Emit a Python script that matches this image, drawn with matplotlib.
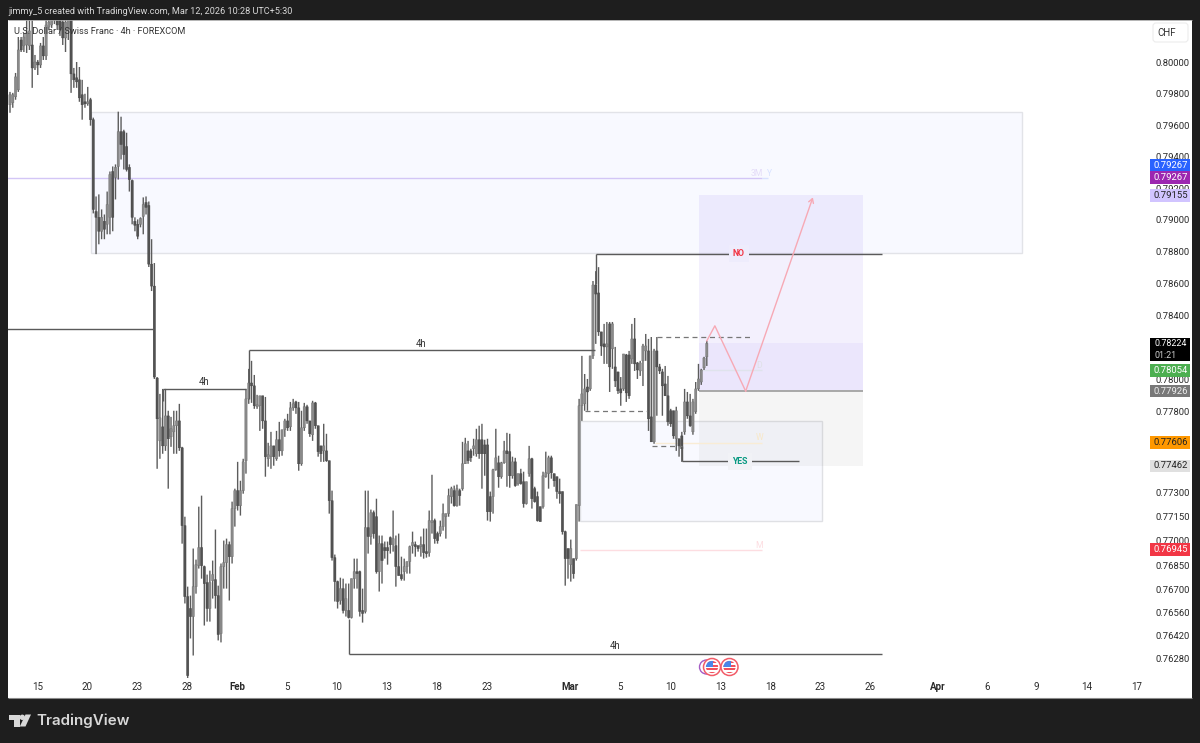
import matplotlib
matplotlib.use("Agg")
import matplotlib.pyplot as plt
import numpy as np
from matplotlib.patches import Rectangle, Circle, FancyBboxPatch, Polygon
from matplotlib.ticker import NullLocator

plt.rcParams['font.family'] = ['Roboto', 'DejaVu Sans']

# USDCHF 4h candles, prices in 1e-5
highs = [79812, 79806, 79933, 80163, 80163, 80189, 80272, 80285, 80336, 80048,
         80016, 80125, 80163, 80272, 80349, 80368, 80368, 80368, 80336, 80323,
         80336, 80368, 80368, 79965, 80003, 79971, 79889, 79800, 79844, 79774,
         79648, 79148, 79161, 79066, 79034, 79179, 79306, 79338, 79351, 79686,
         79654, 79571, 79552, 79351, 79255, 79016, 79003, 79016, 79142, 79148,
         79116, 78878, 78728, 78014, 77909, 77940, 77940, 77804, 77766, 77804,
         77804, 77847, 77580, 77148, 76718, 76663, 76952, 76884, 77210, 77278,
         76847, 76792, 76816, 76878, 77069, 76724, 76860, 77001, 77013, 76995,
         77241, 77321, 77487, 77370, 77506,
         77940, 78065, 78115, 78027, 77903, 77897, 77897, 77890, 77605, 77673,
         77586, 77679, 77735, 77686, 77754, 77785, 77859, 77878, 77866, 77859,
         77804, 77853, 77841, 77741, 77866, 77859, 77711, 77586, 77723, 77661,
         77494, 77309, 76915, 76755, 76773, 76767, 76737, 76737, 76767, 76890,
         76890, 76816, 76706, 77309, 77309, 77192, 77186, 77259, 77032, 77032,
         76995, 76995, 77026, 77186, 77032, 77044, 76902, 76890, 76872, 76970,
         77056, 76995, 76970, 77026, 77075, 77075, 77186, 77407, 77136, 77056,
         77124, 77229, 77167, 77321, 77333, 77340, 77346, 77321, 77611, 77636,
         77617, 77568, 77630, 77692, 77711, 77723, 77624, 77630, 77303, 77444,
         77692, 77525, 77487, 77617, 77667, 77661, 77519, 77512, 77414, 77444,
         77426, 77364, 77586, 77512, 77333, 77303, 77210, 77426, 77550, 77525,
         77525, 77414, 77395, 77383, 77303, 77062, 76952, 77007, 76890, 77223,
         77878, 78146, 78033, 78002, 78146, 78615, 78677, 78702, 78296, 78346,
         78358, 78358, 78358, 78202, 78046, 78014, 78158, 78158, 78177, 78346,
         78383, 78108, 78115, 78221, 78283, 78252, 78264, 78190, 78264, 78096,
         78065, 78083, 78021, 77816, 77804, 77829, 77630, 77673, 77940, 77921,
         77909, 77878, 77983, 78096, 78065, 78140, 78240]

lows = [79679, 79711, 79762, 79812, 80067, 80067, 80061, 80080, 79838, 79952,
        79920, 79965, 80016, 80016, 80208, 80221, 80246, 80208, 80170, 80112,
        80067, 80144, 79806, 79838, 79838, 79749, 79635, 79711, 79724, 79597,
        79041, 78784, 78846, 78878, 78878, 78909, 78909, 78928, 79129, 79255,
        79382, 79319, 79306, 79179, 78972, 78928, 78878, 78953, 78909, 79034,
        78703, 78552, 78002, 77444, 77506, 77537, 77555, 77321, 77580, 77537,
        77537, 77555, 76982, 76615, 76036, 76401, 76297, 76675, 76829, 76767,
        76480, 76504, 76504, 76645, 76584, 76389, 76377, 76706, 76706, 76633,
        76860, 77087, 77186, 77155, 77290,
        77414, 77847, 77853, 77816, 77816, 77679, 77692, 77395, 77457, 77444,
        77463, 77494, 77519, 77525, 77642, 77679, 77679, 77804, 77785, 77432,
        77463, 77679, 77723, 77642, 77617, 77692, 77519, 77487, 77487, 77487,
        77167, 76878, 76627, 76584, 76608, 76554, 76535, 76523, 76523, 76706,
        76706, 76535, 76498, 76554, 76921, 76976, 77013, 76798, 76688, 76737,
        76890, 76853, 76921, 76933, 76718, 76786, 76755, 76755, 76798, 76798,
        76921, 76902, 76933, 76902, 76890, 76896, 76902, 77044, 76982, 76982,
        77026, 77062, 77013, 77148, 77229, 77210, 77210, 77216, 77309, 77475,
        77475, 77487, 77525, 77519, 77506, 77321, 77401, 77124, 77118, 77167,
        77432, 77327, 77383, 77475, 77333, 77327, 77383, 77333, 77340, 77346,
        77204, 77223, 77395, 77198, 77235, 77118, 77118, 77198, 77389, 77321,
        77383, 77333, 77259, 77229, 77038, 76724, 76767, 76749, 76767, 76878,
        77118, 77741, 77804, 77804, 77928, 78127, 78221, 78271, 78146, 78096,
        78096, 77921, 78065, 77952, 77909, 77835, 77928, 77859, 77878, 78096,
        78052, 78002, 78021, 77958, 78115, 77679, 77611, 77599, 77773, 78033,
        77773, 77897, 77711, 77704, 77630, 77555, 77519, 77487, 77655, 77754,
        77704, 77655, 77785, 77928, 77965, 78058, 78083]

opens = [79730, 79743, 79781, 79825, 80144, 80106, 80112, 80106, 80112, 79965,
         80003, 79984, 80106, 80042, 80227, 80240, 80336, 80323, 80272, 80259,
         80157, 80208, 80272, 79927, 79902, 79889, 79794, 79749, 79736, 79762,
         79635, 79053, 79016, 78928, 78991, 78972, 79016, 79306, 79268, 79338,
         79559, 79559, 79464, 79332, 79249, 78991, 78972, 78972, 79022, 79110,
         79091, 78721, 78583, 78008, 77617, 77704, 77586, 77772, 77642, 77673,
         77711, 77741, 77574, 77093, 76657, 76584, 76535, 76718, 76847, 76958,
         76841, 76743, 76584, 76755, 76761, 76663, 76431, 76841, 76866, 76976,
         76902, 77198, 77309, 77216, 77309,
         77494, 77878, 77977, 77959, 77829, 77835, 77897, 77741, 77506, 77519,
         77586, 77506, 77624, 77555, 77686, 77741, 77704, 77822, 77859, 77822,
         77475, 77698, 77829, 77741, 77655, 77853, 77711, 77586, 77555, 77555,
         77494, 77247, 76896, 76749, 76633, 76706, 76572, 76572, 76529, 76767,
         76810, 76810, 76572, 76566, 77081, 77026, 77173, 77148, 76810, 76982,
         76958, 76958, 77019, 76976, 76970, 76841, 76792, 76810, 76841, 76872,
         76970, 76976, 76970, 76964, 76976, 76933, 76927, 77112, 77124, 77044,
         77044, 77087, 77148, 77167, 77272, 77309, 77216, 77309, 77321, 77475,
         77555, 77555, 77568, 77537, 77624, 77624, 77592, 77592, 77272, 77272,
         77438, 77481, 77395, 77481, 77555, 77550, 77401, 77487, 77352, 77414,
         77364, 77229, 77414, 77506, 77321, 77272, 77210, 77210, 77395, 77414,
         77512, 77414, 77395, 77303, 77303, 77056, 76952, 76853, 76890, 76890,
         77216, 77835, 77847, 77952, 77940, 78146, 78590, 78540, 78296, 78221,
         78202, 78346, 78190, 78077, 78046, 77940, 77940, 78152, 78152, 78127,
         78252, 78102, 78052, 78115, 78177, 78177, 77766, 77611, 78177, 78077,
         78046, 77971, 77897, 77804, 77804, 77630, 77630, 77648, 77673, 77859,
         77772, 77673, 77798, 77940, 77983, 78071, 78140]

closes = [79794, 79794, 79908, 80080, 80080, 80163, 80189, 80202, 79965, 80003,
          79984, 80106, 80042, 80240, 80259, 80304, 80272, 80240, 80208, 80157,
          80259, 80304, 79927, 79889, 79876, 79774, 79730, 79736, 79749, 79635,
          79066, 79016, 78928, 79016, 78941, 79097, 79287, 79016, 79332, 79559,
          79477, 79413, 79319, 79255, 79016, 78966, 78897, 79009, 79097, 79079,
          78721, 78583, 78014, 77754, 77760, 77586, 77772, 77630, 77692, 77711,
          77741, 77574, 77093, 76657, 76175, 76535, 76718, 76853, 76958, 76847,
          76737, 76584, 76743, 76792, 76663, 76425, 76841, 76866, 76976, 76902,
          77198, 77309, 77216, 77309, 77487,
          77878, 77977, 77959, 77835, 77841, 77897, 77741, 77519, 77531, 77586,
          77519, 77624, 77555, 77686, 77741, 77698, 77822, 77847, 77822, 77475,
          77698, 77829, 77741, 77661, 77853, 77711, 77550, 77537, 77586, 77494,
          77247, 76896, 76749, 76627, 76706, 76572, 76645, 76529, 76767, 76810,
          76798, 76566, 76554, 77081, 77026, 77173, 77044, 76810, 76982, 76878,
          76939, 76939, 76976, 77013, 76841, 76786, 76767, 76841, 76872, 76964,
          76989, 76964, 76952, 76976, 76927, 76921, 77124, 77124, 77013, 77001,
          77087, 77167, 77167, 77278, 77321, 77216, 77321, 77278, 77475, 77599,
          77494, 77512, 77586, 77624, 77537, 77537, 77537, 77179, 77179, 77438,
          77512, 77395, 77481, 77555, 77537, 77401, 77487, 77340, 77414, 77352,
          77229, 77364, 77506, 77259, 77241, 77124, 77118, 77401, 77420, 77512,
          77420, 77370, 77303, 77290, 77056, 76890, 76890, 76952, 76798, 77223,
          77835, 77909, 77940, 77921, 78146, 78590, 78533, 78296, 78208, 78202,
          78221, 78077, 78346, 77990, 77928, 77915, 78158, 77915, 77897, 78252,
          78096, 78058, 78102, 78208, 78208, 77754, 77611, 78177, 78077, 78052,
          77959, 77897, 77735, 77723, 77648, 77804, 77586, 77568, 77859, 77772,
          77711, 77859, 77940, 78002, 78058, 78133, 78224]

# axis labels
price_ticks = [0.80, 0.798, 0.796, 0.794, 0.792, 0.79, 0.788, 0.786, 0.784, 0.782, 0.78,
               0.778, 0.773, 0.7715, 0.77, 0.7685, 0.767, 0.7656, 0.7642, 0.7628]
date_pos = [10.1, 27.7, 45.7, 63.7, 81.7, 99.7, 117.7, 135.7, 153.7, 171.7, 201.7,
            219.7, 237.7, 255.7, 273.7, 291.7, 309.7, 333.8, 351.8, 369.4, 387.4, 405.4]
date_labels = ['15', '20', '23', '28', 'Feb', '5', '10', '13', '18', '23', 'Mar',
               '5', '10', '13', '18', '23', '26', 'Apr', '6', '9', '14', '17']

# price tags: value, background, text colour, offset in px
tag_values = [0.79267, 0.79267, 0.79155, 0.78054, 0.77926, 0.77606, 0.77462, 0.76945]
tag_colors = ['#2962ff', '#9c27b0', '#d1c4ff', '#4caf50', '#787878', '#ff9800', '#e0e0e0', '#f23645']
tag_text = ['white', 'white', '#222222', 'white', '#eeeeee', '#222222', '#222222', 'white']
tag_shift = [-12.5, 0, 0, 0, 0, 0, 0, 0]

# drawings: (left, right, top, bottom) in bar index and price
supply_zone = (29.3, 364.4, 0.79686, 0.78790)
demand_zone = (205.3, 292.4, 0.77741, 0.77124)
long_tool_x = (248.1, 307.2)
long_target, long_mid, long_entry, long_stop = 0.79155, 0.78228, 0.77926, 0.77462
solid_levels = [(0.78315, -3, 51.9), (0.78184, 86.1, 210.7), (0.77940, 55.1, 85.0),
                (0.76306, 122.1, 314.0), (0.78787, 211.0, 314.0), (0.77490, 242.0, 284.1)]
solid_stems = [(86.1, 0.78184, 0.77880), (55.1, 0.77940, 0.77866), (122.1, 0.76306, 0.76523),
               (211.0, 0.78787, 0.78596), (242.0, 0.77490, 0.77586)]
dashed_levels = [(0.78261, 233.0, 266.8), (0.77801, 207.0, 229.4), (0.77587, 231.2, 242.0)]
path_x = [251.0, 253.9, 265.0, 289.2]
path_y = [0.78240, 0.78334, 0.77926, 0.79142]
pivot_levels = [(0.79267, -3, 270.8, '#d3c6f6'), (0.79267, 270.8, 273.0, '#d8e2ff'),
                (0.78058, 248.5, 270.8, '#dfe3ec'), (0.77606, 232.3, 270.8, '#f9ecd5'),
                (0.76945, 205.3, 270.8, '#fddde1')]
pivot_names = [('3M', 269.0, 0.79293, '#e4dcf8'), ('Y', 273.7, 0.79293, '#d8e2ff'),
               ('D', 269.7, 0.78083, '#dfe1e6'), ('W', 270.0, 0.77636, '#f8e8c8'),
               ('M', 269.7, 0.76970, '#fddde1')]
tf_names = [('4h', 148.0, 0.78221), ('4h', 69.9, 0.77983), ('4h', 217.9, 0.76352)]

W, H = 1200, 743
DARK = '#1e1e1e'


def px_axes(fig, left, top, right, bottom):
    return fig.add_axes([left / W, 1 - bottom / H, (right - left) / W, (bottom - top) / H])


fig = plt.figure(figsize=(W / 100, H / 100), dpi=100, facecolor=DARK)

ax = px_axes(fig, 8, 20, 1146, 678)
ax.set_facecolor('white')
ax.set_yscale('log')
ax.set_ylim(0.7616, 0.80272)
ax.set_xlim(-0.72, 409.2)
ax.set_xticks([])
ax.yaxis.set_major_locator(NullLocator())
ax.yaxis.set_minor_locator(NullLocator())
for s in ax.spines.values():
    s.set_visible(False)

# zones under the candles
ax.add_patch(Rectangle((supply_zone[0], supply_zone[3]), supply_zone[1] - supply_zone[0],
                       supply_zone[2] - supply_zone[3], fc='#f8f9ff', ec='#e2e3e8', lw=1, zorder=1))
ax.add_patch(Rectangle((demand_zone[0], demand_zone[3]), demand_zone[1] - demand_zone[0],
                       demand_zone[2] - demand_zone[3], fc='#f8f9ff', ec='#dfe0e4', lw=1, zorder=1))
lx0, lx1 = long_tool_x
ax.fill_between([lx0, lx1], long_mid, long_target, color='#7a5cf0', alpha=0.09, lw=0, zorder=1.5)
ax.fill_between([lx0, lx1], long_entry, long_mid, color='#7a5cf0', alpha=0.15, lw=0, zorder=1.5)
ax.fill_between([lx0, lx1], long_stop, long_entry, color='#8a8a8a', alpha=0.08, lw=0, zorder=1.5)
ax.hlines(long_entry, lx0, lx1, color='#a8a8a8', lw=1.4, zorder=2)

for price, x0, x1, col in pivot_levels:
    ax.hlines(price, x0, x1, color=col, lw=1, zorder=2)
for name, x, price, col in pivot_names:
    ax.text(x, price, name, color=col, fontsize=6.2, ha='center', va='center', zorder=2)

# candles
idx = np.arange(len(closes))
o = np.array(opens) / 1e5
h = np.array(highs) / 1e5
l = np.array(lows) / 1e5
c = np.array(closes) / 1e5
up = c >= o
wicks = ax.vlines(idx, l, h, color='#5c5c5c', lw=1.0, zorder=3)
wicks.set_snap(False)
for bar in ax.bar(idx[up], (c - o)[up], bottom=o[up], width=0.82, color='#8a8a8a', ec='#707070', lw=0.3, zorder=4):
    bar.set_snap(False)
for bar in ax.bar(idx[~up], (o - c)[~up], bottom=c[~up], width=0.82, color='#525252', ec='#444444', lw=0.3, zorder=4):
    bar.set_snap(False)

# structure lines
for price, x0, x1 in solid_levels:
    ax.hlines(price, x0, x1, color='#5a5a5a', lw=1, zorder=5)
for x, p0, p1 in solid_stems:
    ax.vlines(x, p0, p1, color='#5a5a5a', lw=1, zorder=5)
for price, x0, x1 in dashed_levels:
    ax.hlines(price, x0, x1, color='#777777', lw=0.9, linestyles=(0, (4, 3)), zorder=5)
for name, x, price in tf_names:
    ax.text(x, price, name, color='#333333', fontsize=6.9, ha='center', va='center', zorder=6)

ax.text(262.5, 0.78787, 'NO', color='#f23645', fontsize=6.3, fontweight='bold', ha='center', va='center',
        zorder=6, bbox=dict(fc='#eeecfc', ec='none', boxstyle='square,pad=0.45'))
ax.text(262.9, 0.77490, 'YES', color='#089981', fontsize=6.3, fontweight='bold', ha='center', va='center',
        zorder=6, bbox=dict(fc='#f1f2f6', ec='none', boxstyle='square,pad=0.45'))

# projected path
ax.plot(path_x[:3], path_y[:3], color='#f7a9b5', lw=1, zorder=6)
ax.annotate('', xy=(path_x[3], path_y[3]), xytext=(path_x[2], path_y[2]), zorder=6,
            arrowprops=dict(arrowstyle='->,head_length=0.3,head_width=0.18', color='#f7a9b5', lw=1,
                            shrinkA=0, shrinkB=0))

# price scale
ax_p = px_axes(fig, 1146, 20, 1192, 678)
ax_p.set_facecolor('white')
ax_p.set_yscale('log')
ax_p.set_ylim(ax.get_ylim())
ax_p.set_xticks([])
ax_p.yaxis.set_minor_locator(NullLocator())
ax_p.yaxis.tick_right()
ax_p.set_yticks(price_ticks, ['%.5f' % p for p in price_ticks])
ax_p.tick_params(axis='y', length=0, pad=-26, labelsize=6.8, labelcolor='#2a2a2a')
for s in ax_p.spines.values():
    s.set_visible(False)

# time scale
ax_t = px_axes(fig, 8, 678, 1192, 698)
ax_t.set_facecolor('white')
ax_t.set_xlim(-0.72, 425.4)
ax_t.set_ylim(0, 1)
ax_t.set_yticks([])
ax_t.set_xticks(date_pos, date_labels)
ax_t.tick_params(axis='x', length=0, pad=-11.5, labelsize=7.0, labelcolor='#2a2a2a')
for lab in ax_t.get_xticklabels():
    if lab.get_text() in ('Feb', 'Mar', 'Apr'):
        lab.set_fontweight('bold')
for s in ax_t.spines.values():
    s.set_visible(False)

# overlay in pixel coordinates for tags, flags, header and footer
ov = fig.add_axes([0, 0, 1, 1], facecolor='none')
ov.set_xlim(0, W)
ov.set_ylim(H, 0)
ov.axis('off')

fig.canvas.draw()
for val, bg, fg, shift in zip(tag_values, tag_colors, tag_text, tag_shift):
    y = H - ax_p.transData.transform((0, val))[1] + shift
    ov.add_patch(Rectangle((1150, y - 6.3), 40, 12.6, fc=bg, ec='none', zorder=5))
    ov.text(1170.5, y, '%.5f' % val, color=fg, fontsize=6.8, ha='center', va='center', zorder=6)

ov.add_patch(Rectangle((1150, 338), 40, 23, fc='black', ec='none', zorder=5))
ov.text(1170.5, 344, '0.78224', color='white', fontsize=6.4, ha='center', va='center', zorder=6)
ov.text(1165.5, 355, '01:21', color='#d0d0d0', fontsize=6.4, ha='center', va='center', zorder=6)

ov.add_patch(FancyBboxPatch((1154, 24), 33, 17, boxstyle='round,pad=1,rounding_size=3',
                            fc='white', ec='#ececec', lw=0.8, zorder=5))
ov.text(1166.5, 33, 'CHF', color='#333333', fontsize=7, ha='center', va='center', zorder=6)

ov.hlines(20, 8, 1192, color='#a8a8a8', lw=0.6)
ov.hlines(698, 8, 1192, color='#8a8a8a', lw=0.8)

ov.text(8, 11, 'jimmy_5 created with TradingView.com, Mar 12, 2026 10:28 UTC+5:30',
        color='#d8d8d8', fontsize=6.55, ha='left', va='center')
ov.text(14, 31, 'U.S. Dollar / Swiss Franc · 4h · FOREXCOM', color='#333333',
        fontsize=6.6, ha='left', va='center', zorder=6)


# economic event flags
def flag(cx, cy, r=8.5):
    ov.add_patch(Circle((cx, cy), r, fc='white', ec='#f25c68', lw=1.1, zorder=6))
    inner = Circle((cx, cy), r - 2.4, fc='white', ec='none', zorder=6.1)
    ov.add_patch(inner)
    for k in range(4):
        st = Rectangle((cx - r, cy - r + k * 3.6 + 2.6), 2 * r, 1.8, fc='#f0505c', ec='none', zorder=6.2)
        ov.add_patch(st)
        st.set_clip_path(inner)
    can = Rectangle((cx - r, cy - r), r + 1.2, r, fc='#4a86e8', ec='none', zorder=6.3)
    ov.add_patch(can)
    can.set_clip_path(inner)


ov.add_patch(Circle((706.5, 667), 7, fc='white', ec='#a45cc4', lw=1, zorder=5.5))
flag(712, 667)
flag(729.5, 667)

# footer logo
logo = '#d8d8d8'
ov.add_patch(Polygon([(8.5, 714.5), (19.5, 714.5), (19.5, 726.5), (14, 726.5), (14, 720), (8.5, 720)],
                     fc=logo, ec='none'))
ov.add_patch(Circle((22.3, 717.3), 2.7, fc=logo, ec='none'))
ov.add_patch(Polygon([(25.5, 714.5), (31, 714.5), (25.5, 726.5), (19.8, 726.5)], fc=logo, ec='none'))
ov.text(36.5, 720.5, 'TradingView', color=logo, fontsize=10.9, fontweight='semibold', family='Inter',
        ha='left', va='center')

fig.savefig('out.png', dpi=100, facecolor=DARK)
